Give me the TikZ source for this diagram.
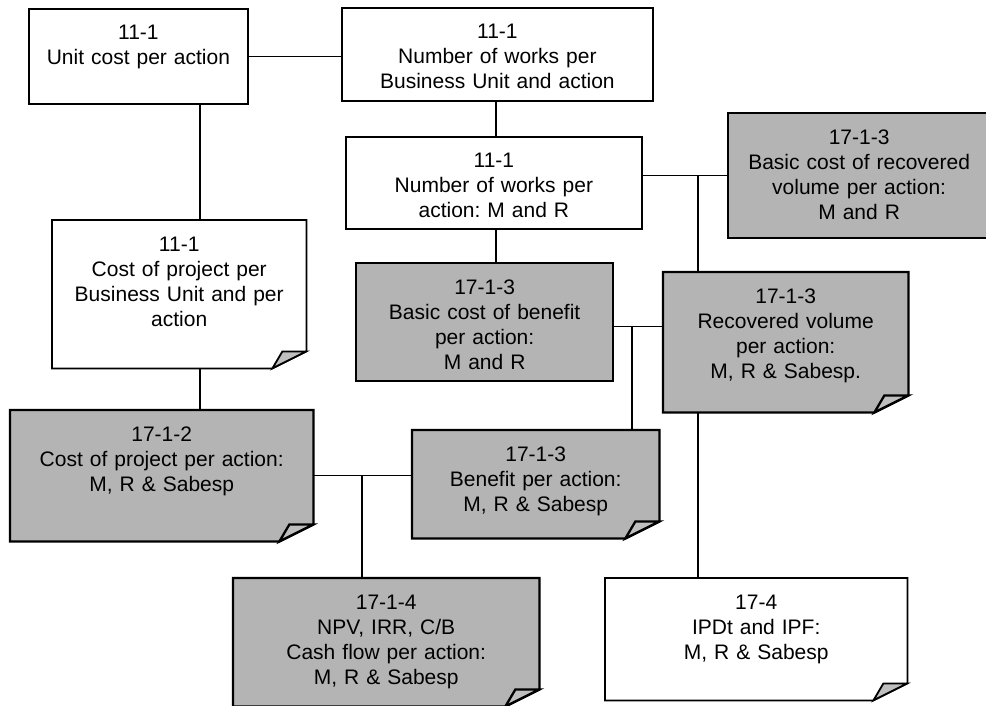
\documentclass[tikz,border=0pt]{standalone}
\usepackage{fontspec}
\setmainfont{Liberation Sans}
\usepackage{xcolor}
\usetikzlibrary{backgrounds}
\definecolor{shade_grey}{HTML}{B4B4B4}
\frenchspacing

\begin{document}
\begin{tikzpicture}[
                x=1pt,
                y=-1pt,
                card/.style={anchor=north west, inner xsep=0pt, inner ysep=0pt, align=center,
                    text height=31pt, font=\fontsize{21}{25}\selectfont},
                plain/.style={card, draw, line width=1.8pt, fill=white},
                grey/.style={card, draw, line width=2.3pt, fill=shade_grey},
                note/.style={card},
                link/.style={line width=1.2pt},
            ]
            \useasboundingbox (0,0) rectangle (986,705);

            % Data sheets 11-1
            \node[plain, text width=219pt, text depth=64pt] (unit) at (28,8) {11-1\\Unit cost per action};
            \node[plain, text width=311pt, text depth=62pt] (works) at (341,7) {11-1\\Number of works per\\Business Unit and action};
            \node[plain, text width=296pt, text depth=61pt] (worksmr) at (345,136) {11-1\\Number of works per\\action: M and R};
            \node[note, text width=254pt, text depth=117pt] (cproj) at (52,220) {11-1\\Cost of project per\\Business Unit and per\\action};

            % Data sheets 17-1
            \node[grey, text width=262pt, text depth=94pt] (basrec) at (727,112) {17-1-3\\Basic cost of recovered\\volume per action:\\M and R};
            \node[grey, text width=257pt, text depth=87pt] (bascben) at (355,262) {17-1-3\\Basic cost of benefit\\per action:\\M and R};
            \node[note, text width=245pt, text depth=109pt] (recvol) at (663,272) {17-1-3\\Recovered volume\\per action:\\M, R \& Sabesp.};
            \node[note, text width=303pt, text depth=100pt] (cpact) at (10,410) {17-1-2\\Cost of project per action:\\M, R \& Sabesp};
            \node[note, text width=247pt, text depth=77pt] (benact) at (412,430) {17-1-3\\Benefit per action:\\M, R \& Sabesp};
            \node[note, text width=306pt, text depth=97pt] (npv) at (233,578) {17-1-4\\NPV, IRR, C/B\\Cash flow per action:\\M, R \& Sabesp};

            % Data sheet 17-4
            \node[note, text width=302pt, text depth=91pt] (ipdt) at (605,578) {17-4\\IPDt and IPF:\\M, R \& Sabesp};

            % Sheets with a folded corner
            \foreach \n/\fc/\lw in {cproj/white/1.8pt, recvol/shade_grey/2.3pt, cpact/shade_grey/2.3pt,
                    benact/shade_grey/2.3pt, npv/shade_grey/2.3pt, ipdt/white/1.8pt} {
                \begin{scope}[on background layer]
                    \fill[fill=\fc] (\n.north west) -- (\n.north east) -- ([yshift=17pt]\n.south east)
                        -- ([xshift=-34pt]\n.south east) -- (\n.south west) -- cycle;
                \end{scope}
                \draw[line width=\lw] (\n.north west) -- (\n.north east) -- ([yshift=17pt]\n.south east)
                    -- ([xshift=-34pt]\n.south east) -- (\n.south west) -- cycle;
                \draw[line width=\lw, fill=black!25] ([xshift=-34pt]\n.south east) -- ([xshift=-24pt, yshift=17pt]\n.south east)
                    -- ([yshift=17pt]\n.south east) -- cycle;
            }

            % Vertical trunks
            \coordinate (ax) at (200,0);
            \coordinate (bx) at (496,0);
            \coordinate (kx) at (362,0);
            \coordinate (ix) at (632,0);
            \coordinate (gx) at (698,0);

            % Connectors
            \draw[link] (unit.east) -- (unit.east -| works.west);
            \draw[link] (unit.south -| ax) -- (cproj.north -| ax);
            \draw[link] (cproj.south -| ax) -- (cpact.north -| ax);
            \draw[link] (works.south -| bx) -- (worksmr.north -| bx);
            \draw[link] (worksmr.south -| bx) -- (bascben.north -| bx);
            \draw[link] (basrec.west) -- (basrec.west -| worksmr.east);
            \draw[link] (basrec.west -| gx) -- (recvol.north -| gx);
            \draw[link] (recvol.south -| gx) -- (ipdt.north -| gx);
            \draw[link] ([yshift=-4pt]bascben.east) -- ([yshift=-4pt]bascben.east -| recvol.west);
            \draw[link] ([yshift=-4pt]bascben.east -| ix) -- (benact.north -| ix);
            \draw[link] (cpact.east) -- (cpact.east -| benact.west);
            \draw[link] (cpact.east -| kx) -- (npv.north -| kx);
        \end{tikzpicture}
\end{document}
